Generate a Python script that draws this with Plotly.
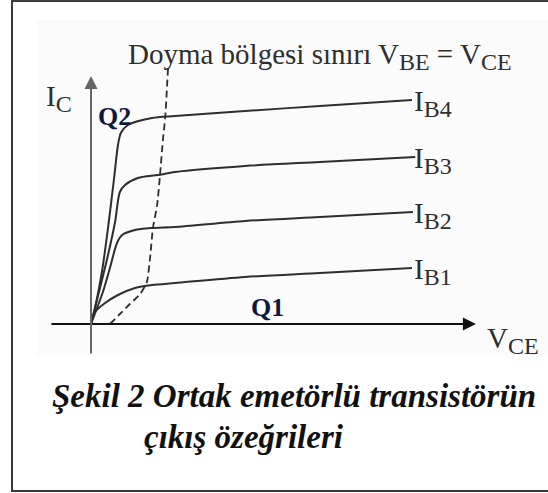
import plotly.graph_objects as go

# Collector characteristics of a common-emitter transistor (V_CE in V, I_C in mA)
vce_ib4 = [0, 0.125, 0.34, 0.53, 0.72, 0.84, 0.93, 1.15, 1.90, 2.62, 4.80, 7.13, 10.0]
ic_ib4 = [0, 0.8, 2.6, 4.8, 7.3, 8.95, 9.55, 9.95, 10.3, 10.4, 10.65, 10.9, 11.2]

vce_ib3 = [0, 0.28, 0.53, 0.75, 0.90, 1.06, 1.46, 2.09, 2.62, 4.80, 7.13, 10.1]
ic_ib3 = [0, 1.8, 3.45, 5.1, 6.6, 6.95, 7.3, 7.45, 7.6, 7.9, 8.1, 8.35]

vce_ib2 = [0, 0.37, 0.59, 0.81, 0.97, 1.37, 1.90, 2.62, 4.80, 7.13, 10.03]
ic_ib2 = [0, 1.6, 2.8, 4.05, 4.45, 4.7, 4.8, 4.85, 5.15, 5.35, 5.6]

vce_ib1 = [0, 0.125, 0.44, 0.84, 1.37, 1.90, 2.62, 4.80, 7.13, 10.0]
ic_ib1 = [0, 0.6, 1.05, 1.45, 1.8, 1.95, 2.05, 2.35, 2.55, 2.8]

# Saturation region boundary (V_BE = V_CE)
vce_sat = [0.59, 0.90, 1.21, 1.53, 1.74, 1.84, 1.93, 2.06, 2.15, 2.24, 2.31, 2.40]
ic_sat = [0, 0.5, 1.0, 1.5, 2.1, 3.3, 4.8, 5.95, 7.45, 9.2, 10.3, 12.8]

curve_subs = ["B1", "B2", "B3", "B4"]

W, H = 548, 493
X_RANGE = [-2.835, 14.237]
Y_RANGE = [-8.45, 16.2]
SERIF = "Liberation Serif, Times New Roman, serif"
INK = "#2e2e2e"


def px(x):
    return x / W


def py(y):
    return 1 - y / H


def sub(text, size=24):
    return "<sub><span style='font-size:%dpx'>%s</span></sub>" % (size, text)


fig = go.Figure()

curves = [(vce_ib1, ic_ib1), (vce_ib2, ic_ib2), (vce_ib3, ic_ib3), (vce_ib4, ic_ib4)]
for (xs, ys), name in zip(curves, curve_subs):
    fig.add_trace(go.Scatter(
        x=xs, y=ys, mode="lines", name="I" + name,
        line=dict(color=INK, width=2, shape="spline", smoothing=0.8),
        hoverinfo="skip",
    ))

fig.add_trace(go.Scatter(
    x=vce_sat, y=ic_sat, mode="lines", name="sat",
    line=dict(color=INK, width=1.8, dash="7px,4px", shape="spline", smoothing=0.6),
    hoverinfo="skip",
))

annotations = []

# axis arrows
annotations.append(dict(
    x=11.99, y=0, ax=-1.28, ay=0, xref="x", yref="y", axref="x", ayref="y",
    text="", showarrow=True, arrowhead=2, arrowsize=1.3, arrowwidth=2,
    arrowcolor="#111111", standoff=0,
))
annotations.append(dict(
    x=0, y=12.4, ax=0, ay=-1.55, xref="x", yref="y", axref="x", ayref="y",
    text="", showarrow=True, arrowhead=2, arrowsize=1.3, arrowwidth=2,
    arrowcolor="#666666", standoff=0,
))


def label(text, x, y, size, color=INK, bold=False, italic=False):
    t = text
    if bold:
        t = "<b>" + t + "</b>"
    if italic:
        t = "<i>" + t + "</i>"
    annotations.append(dict(
        x=px(x), y=py(y), xref="paper", yref="paper", text=t, showarrow=False,
        xanchor="left", yanchor="middle",
        font=dict(family=SERIF, size=size, color=color),
    ))


label("Doyma bölgesi sınırı V" + sub("BE") + " = V" + sub("CE"), 126, 57, 29)
label("I" + sub("C"), 44, 98, 29)
label("V" + sub("CE"), 485, 340, 29)
label("Q2", 96, 116, 26, color="#10183a", bold=True)
label("Q1", 249, 307, 26, color="#10183a", bold=True)

ends_y = [268, 212, 157, 100]
for name, yy in zip(curve_subs, ends_y):
    label("I" + sub(name), 412, yy + 3, 29)

label("Şekil 2 Ortak emetörlü transistörün", 50, 396, 33, color="#111111", bold=True, italic=True)
label("çıkış özeğrileri", 142, 437, 33, color="#111111", bold=True, italic=True)

shapes = [
    # light panel behind the diagram
    dict(type="rect", xref="paper", yref="paper", x0=px(37), x1=1.0, y0=py(355), y1=py(20),
         fillcolor="#fbfbfb", line=dict(width=0), layer="below"),
    # outer frame
    dict(type="rect", xref="paper", yref="paper", x0=px(12), x1=1.02, y0=py(491), y1=py(1),
         fillcolor="rgba(0,0,0,0)", line=dict(color="#3a3a3a", width=2), layer="above"),
]

fig.update_layout(
    width=W, height=H,
    margin=dict(l=0, r=0, t=0, b=0),
    paper_bgcolor="white", plot_bgcolor="rgba(0,0,0,0)",
    showlegend=False,
    xaxis=dict(range=X_RANGE, visible=False, fixedrange=True),
    yaxis=dict(range=Y_RANGE, visible=False, fixedrange=True),
    annotations=annotations,
    shapes=shapes,
)

fig.write_html("out.html", config={"displayModeBar": False})
